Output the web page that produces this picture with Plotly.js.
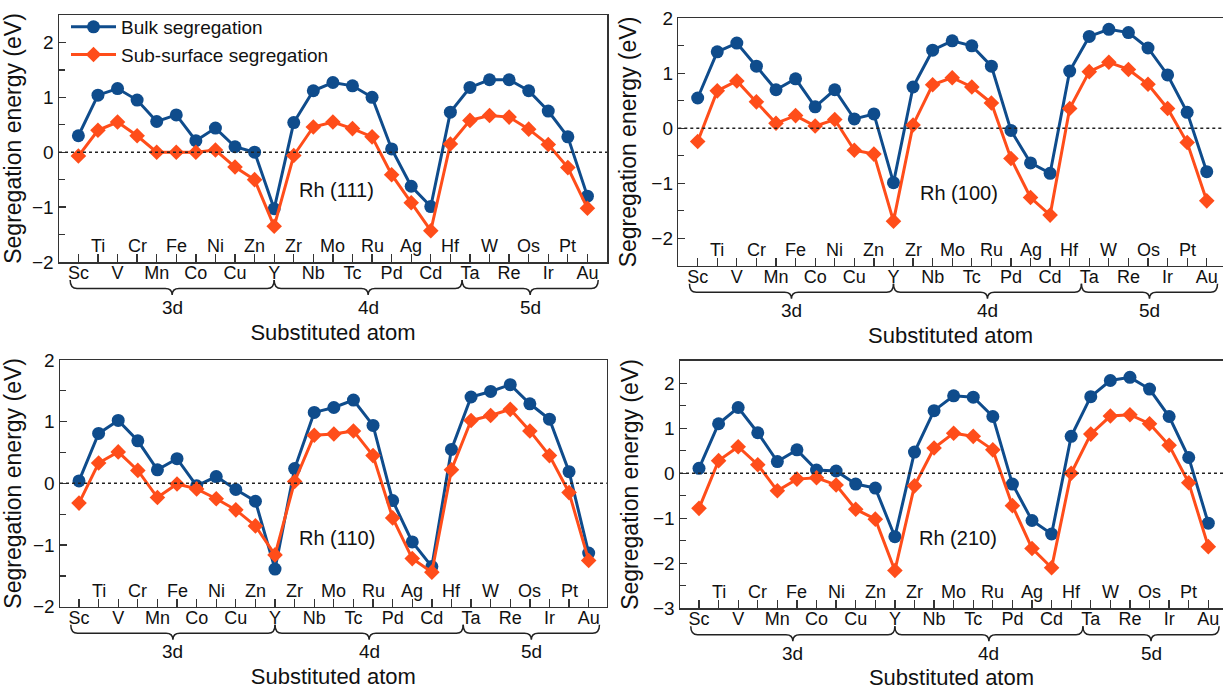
<!DOCTYPE html>
<html>
<head>
<meta charset="utf-8">
<script src="https://cdn.plot.ly/plotly-3.0.1.min.js"></script>
<style>html,body{margin:0;padding:0;background:#fff;}#chart{width:1223px;height:690px;}</style>
</head>
<body>
<div id="chart"></div>
<script>
// ---------- data ----------
const elements = ['Sc','Ti','V','Cr','Mn','Fe','Co','Ni','Cu','Zn','Y','Zr','Nb','Mo','Tc','Ru','Pd','Ag','Cd','Hf','Ta','W','Re','Os','Ir','Pt','Au'];
const groupNames = ['3d','4d','5d'];
const seriesNames = ['Bulk segregation','Sub-surface segregation'];
const surfaceNames = ['Rh (111)','Rh (100)','Rh (110)','Rh (210)'];

const bulk111 = [0.30,1.04,1.16,0.95,0.56,0.68,0.21,0.44,0.10,0.00,-1.03,0.54,1.12,1.27,1.21,1.00,0.06,-0.62,-0.99,0.73,1.18,1.32,1.32,1.12,0.75,0.28,-0.80];
const sub111  = [-0.07,0.40,0.55,0.30,0.00,0.00,0.00,0.04,-0.27,-0.50,-1.35,-0.06,0.46,0.55,0.43,0.28,-0.41,-0.92,-1.43,0.15,0.58,0.67,0.64,0.42,0.14,-0.28,-1.02];

const bulk100 = [0.55,1.39,1.55,1.13,0.70,0.90,0.39,0.70,0.17,0.26,-0.99,0.75,1.42,1.59,1.50,1.13,-0.04,-0.63,-0.82,1.04,1.67,1.80,1.74,1.46,0.97,0.29,-0.79];
const sub100  = [-0.24,0.68,0.86,0.48,0.09,0.23,0.04,0.16,-0.40,-0.47,-1.69,0.06,0.79,0.92,0.75,0.46,-0.55,-1.26,-1.58,0.36,1.03,1.20,1.07,0.80,0.36,-0.26,-1.32];

const bulk110 = [0.04,0.81,1.02,0.69,0.22,0.40,-0.04,0.11,-0.10,-0.29,-1.39,0.24,1.15,1.23,1.35,0.94,-0.28,-0.95,-1.35,0.55,1.40,1.49,1.60,1.29,1.04,0.19,-1.13];
const sub110  = [-0.32,0.33,0.51,0.21,-0.23,-0.01,-0.09,-0.25,-0.43,-0.69,-1.16,0.03,0.78,0.80,0.85,0.45,-0.56,-1.22,-1.44,0.22,1.02,1.10,1.20,0.85,0.45,-0.15,-1.25];

const bulk210 = [0.11,1.10,1.46,0.90,0.26,0.52,0.07,0.05,-0.24,-0.33,-1.41,0.47,1.39,1.72,1.69,1.26,-0.24,-1.05,-1.35,0.82,1.70,2.06,2.13,1.87,1.26,0.35,-1.11];
const sub210  = [-0.78,0.28,0.59,0.19,-0.39,-0.13,-0.10,-0.26,-0.80,-1.02,-2.16,-0.28,0.56,0.89,0.82,0.52,-0.72,-1.67,-2.10,0.00,0.87,1.27,1.30,1.10,0.62,-0.21,-1.63];

// ---------- layout helpers ----------
const W = 1223, H = 690;
const px = v => v / W;
const py = v => 1 - v / H;
const FONT = 'Liberation Sans, Arial, sans-serif';
const BLUE = '#0f4c8c';
const ORANGE = '#ff4d1a';
const AX = '#333333';

const idx = elements.map((_, i) => i);
const bottomText = elements.map((e, i) => (i % 2 === 0 ? e : ''));

const panels = [
  {bulk: bulk111, sub: sub111, name: surfaceNames[0], dom: [59, 607],    top: 15,    bot: 262,   yr: [-2, 2.5], xr: [-0.99, 27.0],  lab: [11.15, -0.68]},
  {bulk: bulk100, sub: sub100, name: surfaceNames[1], dom: [678.3, 1223], top: 18.3,  bot: 265.7, yr: [-2.5, 2], xr: [-0.99, 26.83], lab: [11.25, -1.18]},
  {bulk: bulk110, sub: sub110, name: surfaceNames[2], dom: [60, 606.7],   top: 360,   bot: 606.7, yr: [-2, 2],   xr: [-0.97, 26.92], lab: [11.1, -0.89]},
  {bulk: bulk210, sub: sub210, name: surfaceNames[3], dom: [680, 1223],   top: 360.7, bot: 608.3, yr: [-3, 2.5], xr: [-0.97, 26.75], lab: [11.14, -1.43]}
];
const groupSpans = [[-0.42, 10], [10, 19.6], [19.6, 26.55]];

const data = [];
const layout = {
  width: W, height: H,
  margin: {l: 0, r: 0, t: 0, b: 0},
  paper_bgcolor: '#fff', plot_bgcolor: '#fff',
  font: {family: FONT, color: '#111', size: 18},
  showlegend: true,
  legend: {
    x: px(66), y: py(8), xanchor: 'left', yanchor: 'top',
    bgcolor: 'rgba(0,0,0,0)', font: {family: FONT, size: 19, color: '#111'},
    itemwidth: 45, tracegroupgap: 0
  },
  shapes: [], annotations: []
};

panels.forEach((p, k) => {
  const n = k + 1;
  const xa = 'x' + (n === 1 ? '' : n), ya = 'y' + (n === 1 ? '' : n);
  const xKey = 'xaxis' + (n === 1 ? '' : n), yKey = 'yaxis' + (n === 1 ? '' : n);
  data.push({
    x: idx, y: p.bulk, xaxis: xa, yaxis: ya, type: 'scatter', mode: 'lines+markers',
    name: seriesNames[0], showlegend: k === 0, legendgroup: 'b',
    line: {color: BLUE, width: 3}, marker: {symbol: 'circle', size: 13, color: BLUE}
  });
  data.push({
    x: idx, y: p.sub, xaxis: xa, yaxis: ya, type: 'scatter', mode: 'lines+markers',
    name: seriesNames[1], showlegend: k === 0, legendgroup: 's',
    line: {color: ORANGE, width: 3}, marker: {symbol: 'diamond', size: 12, color: ORANGE}
  });
  layout[xKey] = {
    domain: [px(p.dom[0]), px(p.dom[1])], anchor: ya, range: p.xr,
    showgrid: false, zeroline: false, showline: true, mirror: true, linecolor: AX, linewidth: 1.5,
    ticks: 'inside', ticklen: 8, tickwidth: 1.3, tickcolor: AX,
    tickmode: 'array', tickvals: idx, ticktext: bottomText, ticklabelstandoff: -6,
    tickfont: {family: FONT, size: 18, color: '#111'},
    title: {text: 'Substituted atom', font: {family: FONT, size: 22, color: '#111'}, standoff: 42},
    automargin: false
  };
  layout[yKey] = {
    domain: [py(p.bot), py(p.top)], anchor: xa, range: p.yr,
    showgrid: false, zeroline: false, showline: true, mirror: true, linecolor: AX, linewidth: 1.5,
    ticks: 'inside', ticklen: 7, tickwidth: 1.3, tickcolor: AX, dtick: 1, tick0: 0,
    minor: {dtick: 0.5, ticks: 'inside', ticklen: 6, tickwidth: 1.3, tickcolor: AX},
    tickfont: {family: FONT, size: 19, color: '#111'},
    title: {text: 'Segregation energy (eV)', font: {family: FONT, size: 23, color: '#111'}, standoff: 8},
    automargin: false
  };

  // upper row of element labels (inside the frame)
  idx.filter(i => i % 2 === 1).forEach(i => {
    layout.annotations.push({text: elements[i], xref: xa, yref: 'paper', x: i, y: py(p.bot - 16),
      xanchor: 'center', yanchor: 'middle', showarrow: false, font: {family: FONT, size: 18, color: '#111'}});
  });

  // dotted zero line
  layout.shapes.push({type: 'line', xref: xa + ' domain', yref: ya, x0: 0, x1: 1, y0: 0, y1: 0,
    line: {color: '#222', width: 1.5, dash: 'dot'}});

  // braces
  const yTop = py(p.bot + 18), yH = py(p.bot + 26.5), yN = py(p.bot + 33);
  groupSpans.forEach((g, j) => {
    const xs = g[0], xe = g[1], xc = (xs + xe) / 2, d = 0.35;
    const path = `M ${xs},${yTop} Q ${xs},${yH} ${xs + d},${yH} L ${xc - d},${yH} Q ${xc},${yH} ${xc},${yN} ` +
                 `M ${xc},${yN} Q ${xc},${yH} ${xc + d},${yH} L ${xe - d},${yH} Q ${xe},${yH} ${xe},${yTop}`;
    layout.shapes.push({type: 'path', xref: xa, yref: 'paper', path: path,
      line: {color: '#222', width: 1.5}});
    layout.annotations.push({text: groupNames[j], xref: xa, yref: 'paper', x: xc, y: py(p.bot + 45),
      xanchor: 'center', yanchor: 'middle', showarrow: false, font: {family: FONT, size: 19, color: '#111'}});
  });

  layout.annotations.push({text: p.name, xref: xa, yref: ya, x: p.lab[0], y: p.lab[1],
    xanchor: 'left', yanchor: 'middle', showarrow: false, font: {family: FONT, size: 20, color: '#111'}});
});

Plotly.newPlot('chart', data, layout, {displayModeBar: false, staticPlot: true});
</script>
</body>
</html>
